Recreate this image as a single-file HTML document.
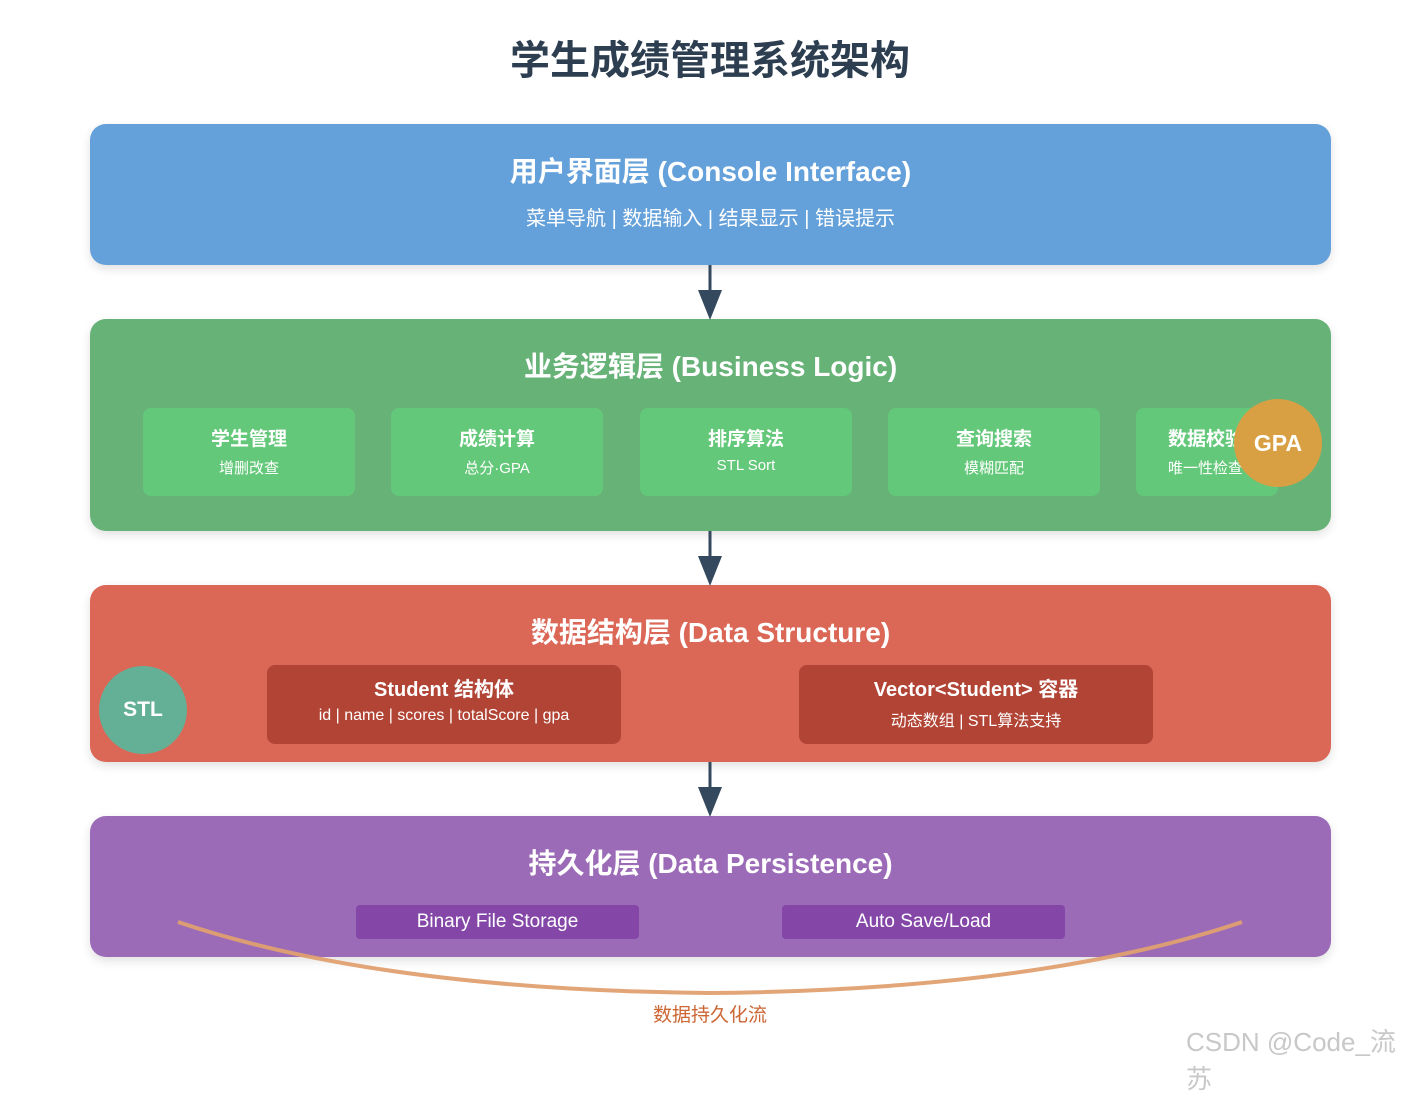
<!DOCTYPE html>
<html><head><meta charset="utf-8">
<style>
*{margin:0;padding:0;box-sizing:border-box}
body{width:1420px;height:1065px;background:#fff;position:relative;overflow:hidden;font-family:"Liberation Sans","Noto Sans CJK SC",sans-serif;color:#fff}
.a{position:absolute}
.layer{position:absolute;left:90px;width:1241px;border-radius:16px;box-shadow:0 4px 10px rgba(0,0,0,0.12)}
.lt{position:absolute;left:0;width:100%;text-align:center;font-weight:bold;font-size:28px}
.g{position:absolute;top:408px;width:212px;height:88px;background:#64c87a;border-radius:8px;text-align:center}
.g b{display:block;font-size:19px;margin-top:16px}
.g span{display:block;font-size:15px;margin-top:6px}
.r{position:absolute;top:665px;width:354px;height:79px;background:#b14435;border-radius:8px;text-align:center}
.r b{display:block;font-size:20px;margin-top:8px}
.r span{display:block;font-size:16px;margin-top:5px}
.p{position:absolute;top:905px;width:283px;height:34px;background:#8447a8;border-radius:4px;text-align:center;font-size:19px;line-height:34px}
.c{position:absolute;border-radius:50%;text-align:center;font-weight:bold}
</style></head><body>
<div class="a" style="left:0;width:1420px;top:28px;text-align:center;font-size:40px;font-weight:bold;color:#2c3e50">学生成绩管理系统架构</div>

<div class="layer" style="top:124px;height:141px;background:#64a0d9">
<div class="lt" style="top:26px">用户界面层 (Console Interface)</div>
<div class="lt" style="top:78px;font-size:20px;font-weight:normal">菜单导航 | 数据输入 | 结果显示 | 错误提示</div>
</div>

<div class="layer" style="top:319px;height:212px;background:#66b277">
<div class="lt" style="top:26px">业务逻辑层 (Business Logic)</div>
</div>
<div class="g" style="left:143px"><b>学生管理</b><span>增删改查</span></div>
<div class="g" style="left:391px"><b>成绩计算</b><span>总分·GPA</span></div>
<div class="g" style="left:640px"><b>排序算法</b><span>STL Sort</span></div>
<div class="g" style="left:888px"><b>查询搜索</b><span>模糊匹配</span></div>
<div class="g" style="left:1136px;width:142px;text-align:left;padding-left:32px;overflow:hidden"><b style="white-space:nowrap">数据校验</b><span style="white-space:nowrap">唯一性检查</span></div>
<div class="c" style="left:1234px;top:399px;width:88px;height:88px;background:#d9a043;font-size:23px;line-height:88px">GPA</div>

<div class="layer" style="top:585px;height:177px;background:#db6757">
<div class="lt" style="top:26px">数据结构层 (Data Structure)</div>
</div>
<div class="r" style="left:267px"><b>Student 结构体</b><span>id | name | scores | totalScore | gpa</span></div>
<div class="r" style="left:799px"><b>Vector&lt;Student&gt; 容器</b><span>动态数组 | STL算法支持</span></div>
<div class="c" style="left:99px;top:666px;width:88px;height:88px;background:#64b097;font-size:21px;line-height:88px">STL</div>

<div class="layer" style="top:816px;height:141px;background:#9b6bb7">
<div class="lt" style="top:26px">持久化层 (Data Persistence)</div>
</div>
<div class="p" style="left:356px">Binary File Storage</div>
<div class="p" style="left:782px">Auto Save/Load</div>

<svg class="a" style="left:0;top:0" width="1420" height="1065">
<g fill="#34495e" stroke="#34495e" stroke-width="3">
<line x1="710" y1="265" x2="710" y2="295"/><polygon points="698,290 722,290 710,320" stroke="none"/>
<line x1="710" y1="531" x2="710" y2="561"/><polygon points="698,556 722,556 710,586" stroke="none"/>
<line x1="710" y1="762" x2="710" y2="792"/><polygon points="698,787 722,787 710,817" stroke="none"/>
</g>
<path d="M178,922 Q380,990 710,993 Q1040,990 1242,922" fill="none" stroke="#e0a070" stroke-opacity="0.95" stroke-width="4"/>
</svg>
<div class="a" style="left:0;width:1420px;top:1000px;text-align:center;font-size:19px;color:#cc6633">数据持久化流</div>
<div class="a" style="left:1186px;top:1022px;font-size:26px;color:#c8c8c8">CSDN @Code_流苏</div>
</body></html>
